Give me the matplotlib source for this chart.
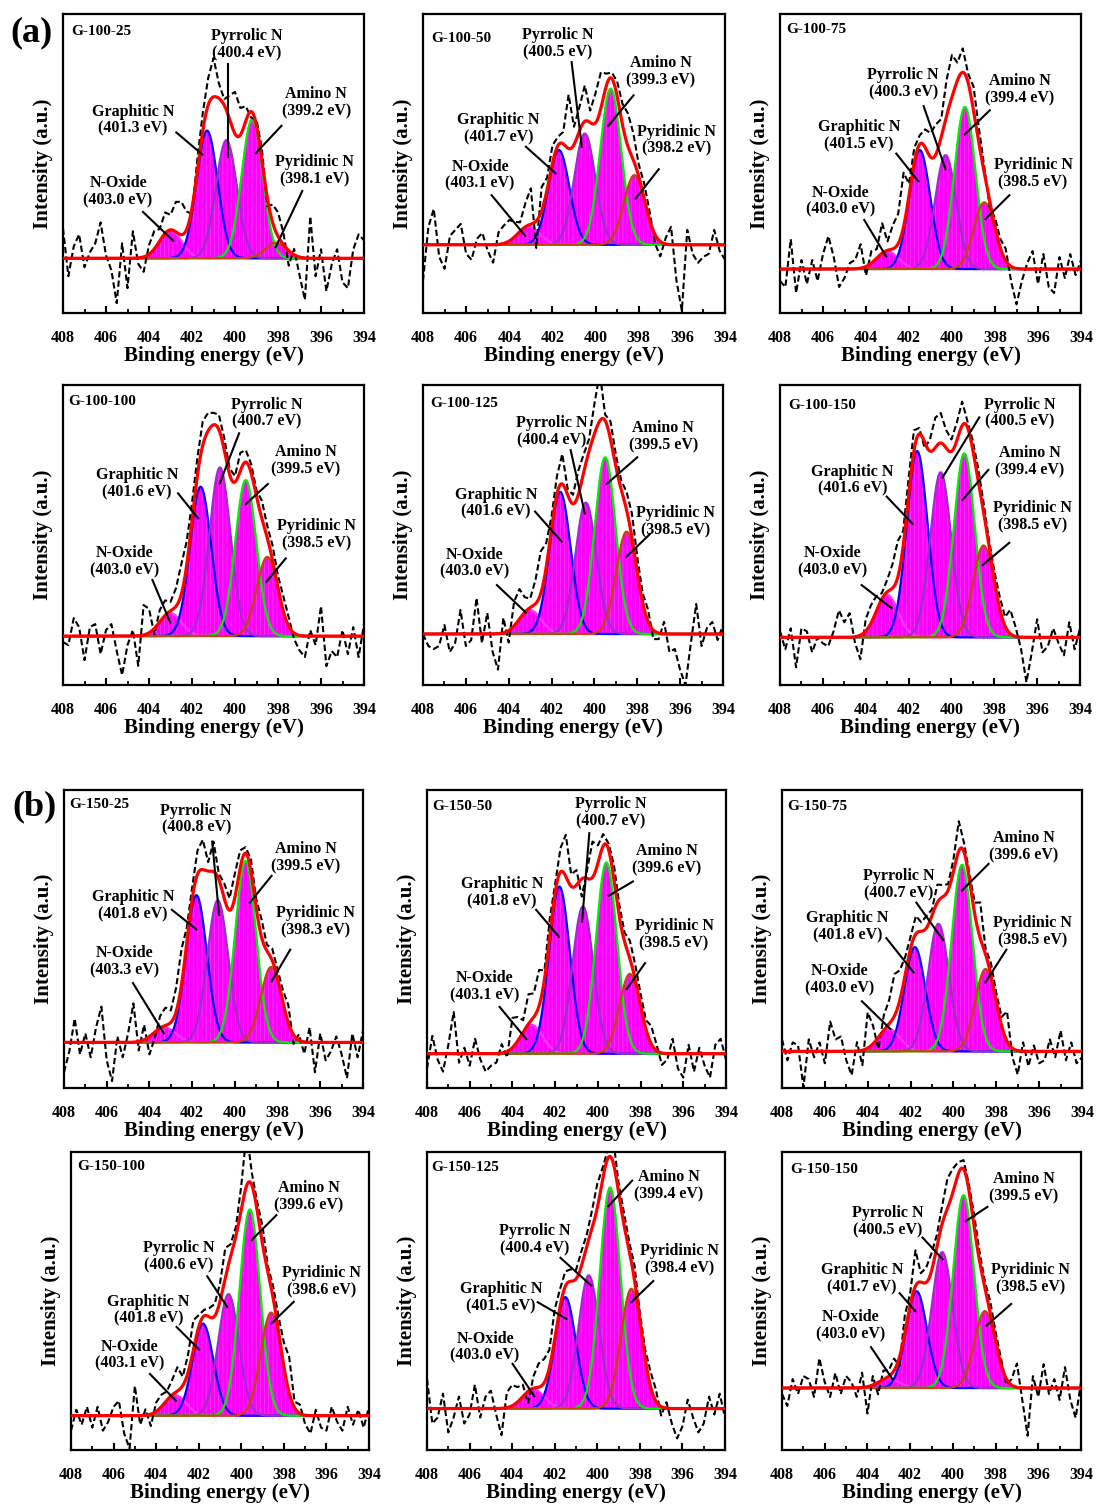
import numpy as np
import matplotlib
matplotlib.use("Agg")
import matplotlib.pyplot as plt
from matplotlib.ticker import MultipleLocator

plt.rcParams["font.family"] = ["Liberation Serif", "DejaVu Serif"]
plt.rcParams["font.weight"] = "bold"
plt.rcParams["axes.labelweight"] = "bold"
plt.rcParams["hatch.linewidth"] = 0.5

# ---- data (intensity in % of panel height) ----
SAMPLES = ["G-100-25", "G-100-50", "G-100-75", "G-100-100", "G-100-125", "G-100-150",
           "G-150-25", "G-150-50", "G-150-75", "G-150-100", "G-150-125", "G-150-150"]
SPECIES = ["N-Oxide", "Graphitic N", "Pyrrolic N", "Amino N", "Pyridinic N"]
FWHM = [1.2, 1.15, 1.15, 1.15, 1.15]  # eV, per species

# peak positions (eV) as labelled, order = SPECIES
CENTERS = [
    [403.0, 401.3, 400.4, 399.2, 398.1],
    [403.1, 401.7, 400.5, 399.3, 398.2],
    [403.0, 401.5, 400.3, 399.4, 398.5],
    [403.0, 401.6, 400.7, 399.5, 398.5],
    [403.0, 401.6, 400.4, 399.5, 398.5],
    [403.0, 401.6, 400.5, 399.4, 398.5],
    [403.3, 401.8, 400.8, 399.5, 398.3],
    [403.1, 401.8, 400.7, 399.6, 398.5],
    [403.0, 401.8, 400.7, 399.6, 398.5],
    [403.1, 401.8, 400.6, 399.6, 398.6],
    [403.0, 401.5, 400.4, 399.4, 398.4],
    [403.0, 401.7, 400.5, 399.5, 398.5],
]
HEIGHTS = [
    [9.4, 42.7, 39.5, 46.5, 5.2],
    [6.1, 31.7, 37.2, 52.2, 23.3],
    [5.9, 39.8, 38.1, 54.2, 22.3],
    [7.6, 49.8, 56.2, 52.0, 26.4],
    [8.0, 47.4, 43.8, 58.9, 34.1],
    [14.1, 62.1, 55.0, 61.3, 30.6],
    [5.1, 49.4, 47.7, 60.9, 25.3],
    [9.7, 56.1, 49.4, 64.2, 26.8],
    [7.5, 35.0, 42.8, 62.6, 27.6],
    [6.9, 30.9, 40.8, 69.2, 34.6],
    [6.5, 37.4, 44.7, 74.2, 40.2],
    [3.0, 32.5, 45.6, 64.7, 25.8],
]
BASELINE = [18.3, 22.8, 14.7, 16.3, 17.0, 15.9, 15.3, 11.5, 12.3, 11.5, 13.9, 20.8]

# measured minus fit, every 0.25 eV from 408 to 394
RESID = [
    [10, -6, 4, 8, -3, 2, 5, 12, 1, -4, -15, 5, -10, 9, -2, -5, 3, 6, 4, 7,
     5, 10, 11, 6, -2, 4, 6, 9, 13, 5, 2, 8, 14, 9, 5, -2, 2, 4, -3, 6,
     8, 4, -5, 2, -6, -14, 14, -6, 3, -11, -2, 3, -8, -10, 3, 8, 6],
    [-12, 6, 12, -4, -8, 3, 5, 7, -3, -5, 2, 4, -2, -6, 4, 6, 7, 5, 3, 8,
     12, -9, 8, 4, 6, 3, 4, 18, 6, 8, 12, 4, 10, 12, 4, 2, 5, 7, 11, 9,
     4, 5, 3, -3, -5, 2, 6, -12, -22, 5, -3, -6, -4, -3, 5, -2, -5],
    [-4, -6, 10, -8, 3, -5, 3, -4, 5, 11, 4, -6, -3, 2, 3, 8, -3, 4, 3, 10,
     3, 8, 10, 18, 4, 5, 3, 6, 8, 10, 6, 12, 14, 6, 8, 3, 8, 5, 2, -2,
     3, 3, 4, -5, -12, -4, 2, 6, -5, 5, -6, -8, 4, -3, 5, -2, 3],
    [-2, -3, 6, 3, -8, 3, 4, -6, 2, 4, -5, -13, -3, 2, -10, 10, 8, -2, 4, 5,
     3, 6, 10, 8, 6, 6, 8, 6, 4, 5, 4, 2, 2, 6, 4, 3, 2, 6, 4, 5,
     4, 5, 3, -2, -5, -7, 2, -3, 10, -10, -5, -7, 2, -6, 3, -7, 4],
    [0, -4, -5, -4, 3, -6, -3, 8, -4, -2, 12, -3, 7, -6, -12, 5, -4, 8, 10, 5,
     3, 8, 14, 8, 4, 6, 10, 2, 3, 8, 6, 4, 10, 16, 2, 6, 4, 3, 6, 8,
     5, 3, 4, -3, -2, 4, -6, -5, -12, -17, -3, 10, -4, 2, 4, -2, 3],
    [2, -4, 3, -10, 3, 2, -5, 0, -2, -3, 2, 9, 5, 8, -2, -8, 4, 6, 5, 2,
     4, 8, 12, 5, 6, 7, 2, -2, 4, 10, 10, 6, 4, 6, 8, 2, 3, 4, 3, 2,
     3, 4, 3, 8, 3, -4, -15, -5, 6, -5, -3, 3, -2, -6, 5, -4, 3],
    [-10, -3, 8, -4, 3, -5, 5, 12, -6, -13, 2, -5, 3, 13, -3, 5, -6, -2, 4, 6,
     4, 8, 12, 5, 4, 8, 10, 3, 10, 2, 5, 4, 8, 6, 2, 4, 3, 6, 2, 4,
     3, 4, 6, -3, 2, -4, 5, -10, 3, -6, -3, 2, -4, -12, 3, -5, 4],
    [-5, 6, -2, -6, 3, 14, -3, 2, -4, 5, -2, -6, -4, -3, 3, -2, 10, 8, 4, 10,
     8, 12, 3, 6, 3, 8, 14, 4, 5, -6, 3, 12, 6, 4, 2, 5, 4, 3, 6, 5,
     4, 3, 6, 2, -4, -2, 5, -5, -8, 3, -6, 2, -4, -8, 3, 5, -2],
    [4, -3, 3, 2, -12, 4, -2, 3, -4, 10, 4, 5, -3, -8, 3, -5, 12, 6, -4, 5,
     8, 14, 10, 6, 4, 6, 3, 4, 2, 6, 4, 2, 4, 10, 3, 2, 4, 12, 2, 4,
     3, 3, 10, -3, -8, 3, -5, 2, -4, -3, 4, -2, 7, -3, 3, -4, -2],
    [-5, 2, -3, 3, -4, 3, -5, -2, 3, 5, -6, -11, 10, -3, 2, -4, 3, 4, 3, 5,
     8, 3, 6, 10, 4, 2, 3, 4, 6, 10, 4, 3, 8, 18, 4, 3, 6, 2, 4, 5,
     8, 12, 2, 3, -3, -6, 2, -4, -5, 3, -2, -5, 3, -3, 2, -4, 3],
    [10, -5, -3, 5, -8, -3, 4, -5, -2, 8, -3, 4, 6, -2, -9, 5, 7, 5, 4, -4,
     4, 8, 8, 6, 10, 6, 5, 4, 3, 5, 4, 6, 8, 4, 3, 8, 3, 4, 3, 5,
     2, 3, 5, 4, -3, 2, -5, -10, -6, 3, -3, -8, -5, 4, -2, 5, -3],
    [-2, -6, 3, -2, 4, 3, -3, 10, 2, -3, 5, -2, 4, 2, -3, 5, -9, 3, -4, 3,
     2, 4, -3, 6, 4, 12, 3, 5, 6, 4, 6, 10, 8, 4, 3, 2, 4, 3, 2, 4,
     3, 2, -2, 2, 8, -4, -16, 4, -3, 8, -2, 3, -4, 7, -4, -10, 2],
]

# ---- layout (pixels of the 1096x1508 figure) ----
W, H = 1096, 1508
AX_BOX = [(63, 14, 364, 313), (423, 14, 725, 313), (780, 14, 1081, 313),
          (63, 385, 364, 685), (423, 385, 723, 685), (780, 385, 1080, 685),
          (64, 790, 363, 1088), (427, 790, 726, 1088), (782, 790, 1082, 1088),
          (71, 1152, 369, 1450), (427, 1152, 725, 1450), (782, 1152, 1081, 1450)]
TITLE_POS = [(0.028, 0.942), (0.026, 0.919), (0.020, 0.948), (0.017, 0.944),
             (0.024, 0.939), (0.028, 0.933), (0.016, 0.950), (0.019, 0.944),
             (0.017, 0.946), (0.022, 0.950), (0.015, 0.948), (0.027, 0.940)]
# per panel, per species: text x, text y, leader x0, y0, x1, y1 (data coords)
LABELS = [
    [(405.44, 40.5, 404.28, 33.8, 402.88, 24.2), (404.74, 64.5, 402.73, 60.4, 401.52, 53.0),
     (399.47, 89.6, 400.33, 83.2, 400.33, 52.1), (396.22, 70.4, 397.84, 62.6, 399.04, 53.4),
     (396.29, 47.7, 396.87, 40.8, 398.11, 22.0)],
    [(405.35, 46.1, 404.82, 39.4, 403.27, 25.9), (404.50, 61.7, 403.23, 55.6, 401.85, 46.7),
     (401.74, 90.0, 401.11, 83.9, 400.64, 55.6), (396.97, 80.8, 398.24, 72.8, 399.41, 62.6),
     (396.23, 57.8, 397.07, 48.1, 398.14, 38.3)],
    [(405.18, 37.4, 404.08, 31.1, 403.06, 18.9), (404.33, 59.4, 402.59, 53.3, 401.57, 44.1),
     (402.27, 76.7, 401.32, 69.2, 400.30, 48.1), (396.86, 74.8, 398.24, 67.8, 399.41, 59.7),
     (396.23, 46.7, 397.33, 39.4, 398.45, 31.4)],
    [(405.13, 41.1, 403.84, 35.0, 403.01, 20.8), (404.56, 67.0, 402.65, 63.9, 401.72, 55.6),
     (398.54, 90.6, 399.81, 83.9, 400.71, 67.2), (396.71, 74.8, 398.47, 67.0, 399.50, 60.3),
     (396.19, 50.0, 397.64, 42.2, 398.54, 34.4)],
    [(405.61, 40.6, 404.55, 33.3, 403.19, 24.1), (404.59, 60.6, 402.77, 57.8, 401.53, 47.8),
     (402.00, 84.4, 401.11, 78.3, 400.45, 57.2), (396.79, 82.8, 398.00, 75.9, 399.43, 67.0),
     (396.20, 54.4, 397.41, 50.3, 398.53, 42.6)],
    [(405.54, 41.1, 404.19, 33.3, 402.79, 25.6), (404.61, 68.3, 403.02, 62.8, 401.81, 53.7),
     (396.80, 90.6, 398.70, 89.2, 400.41, 69.2), (396.36, 74.4, 398.28, 71.7, 399.48, 61.7),
     (396.21, 56.1, 397.30, 47.4, 398.54, 40.0)],
    [(405.15, 42.5, 404.77, 35.2, 403.33, 18.4), (404.77, 61.1, 402.95, 59.8, 401.81, 53.3),
     (401.81, 90.2, 401.06, 82.7, 400.74, 58.1), (396.69, 77.4, 398.28, 71.2, 399.30, 62.2),
     (396.23, 55.9, 397.41, 46.4, 398.28, 35.8)],
    [(405.32, 34.1, 404.60, 27.2, 403.35, 16.4), (404.48, 65.6, 402.89, 59.8, 401.83, 50.8),
     (399.38, 92.4, 400.40, 85.5, 400.74, 55.9), (396.77, 76.5, 398.36, 69.3, 399.49, 64.5),
     (396.43, 51.4, 397.79, 41.9, 398.65, 33.2)],
    [(405.31, 36.3, 404.27, 29.1, 402.94, 19.8), (404.94, 54.2, 403.13, 50.3, 401.86, 38.8),
     (402.56, 68.2, 401.73, 62.2, 400.49, 49.7), (396.72, 81.0, 398.36, 75.2, 399.60, 66.3),
     (396.29, 52.5, 397.53, 46.4, 398.51, 35.4)],
    [(405.23, 31.8, 404.29, 25.5, 403.07, 16.5), (404.37, 46.9, 403.04, 41.3, 401.98, 33.7),
     (402.96, 64.8, 401.60, 58.3, 400.66, 48.0), (396.82, 84.9, 398.35, 78.8, 399.52, 70.4),
     (396.24, 56.4, 397.54, 49.7, 398.58, 42.5)],
    [(405.27, 34.5, 403.98, 28.9, 402.95, 18.0), (404.52, 51.0, 402.80, 49.6, 401.45, 44.0),
     (402.95, 70.6, 401.73, 64.5, 400.29, 55.2), (396.64, 88.6, 398.36, 90.4, 399.48, 81.8),
     (396.15, 63.9, 397.37, 56.7, 398.40, 49.6)],
    [(404.79, 41.8, 403.83, 34.5, 402.83, 23.8), (404.26, 57.5, 402.49, 52.6, 401.76, 46.6),
     (403.04, 76.5, 401.42, 71.3, 400.48, 64.0), (396.67, 88.1, 398.38, 81.6, 399.39, 76.8),
     (396.35, 57.5, 397.27, 49.0, 398.43, 41.7)],
]
LINE_COLORS = ["#FF33FF", "#0000FF", "#9A30C8", "#00EE00", "#C0460A"]


def gauss(x, c, h, fw):
    return h * np.exp(-4 * np.log(2) * (x - c) ** 2 / fw ** 2)


def envelope(x, i):
    y = np.full_like(x, BASELINE[i], dtype=float)
    for c, h, fw in zip(CENTERS[i], HEIGHTS[i], FWHM):
        y += gauss(x, c, h, fw)
    return y


fig = plt.figure(figsize=(W / 100, H / 100), dpi=100)
xf = np.linspace(408, 394, 700)

for i, name in enumerate(SAMPLES):
    x0, y0, x1, y1 = AX_BOX[i]
    ax = fig.add_axes([x0 / W, 1 - y1 / H, (x1 - x0) / W, (y1 - y0) / H])
    base = BASELINE[i]
    comps = [gauss(xf, c, h, fw) for c, h, fw in zip(CENTERS[i], HEIGHTS[i], FWHM)]
    for g in comps:
        ax.fill_between(xf, base, base + g, facecolor="#FF00FF", edgecolor="#F040F0",
                        hatch="||||", linewidth=0, zorder=1)
    for g, col in zip(comps, LINE_COLORS):
        ax.plot(xf, base + g, color=col, lw=1.6, zorder=2)
    xr = np.linspace(408, 394, len(RESID[i]))
    ax.plot(xr, envelope(xr, i) + np.array(RESID[i]), color="black", lw=1.5,
            ls=(0, (3, 1.5)), zorder=3)
    ax.plot(xf, envelope(xf, i), color="#FF0000", lw=2.3, zorder=4)

    for sp, c, (tx, ty, lx0, ly0, lx1, ly1) in zip(SPECIES, CENTERS[i], LABELS[i]):
        ax.text(tx, ty, "%s\n(%.1f eV)" % (sp, c), fontsize=11.5, fontweight="bold",
                ha="center", va="center", multialignment="center", linespacing=1.1,
                zorder=5)
        ax.plot([lx0, lx1], [ly0, ly1], color="black", lw=1.5, zorder=5)

    ax.text(TITLE_POS[i][0], TITLE_POS[i][1], name, transform=ax.transAxes,
            fontsize=11, fontweight="bold", ha="left", va="center")
    ax.set_xlim(408, 394)
    ax.set_ylim(0, 100)
    ax.set_yticks([])
    ax.xaxis.set_major_locator(MultipleLocator(2))
    ax.xaxis.set_minor_locator(MultipleLocator(1))
    ax.tick_params(axis="x", which="major", direction="in", length=5, width=1.5,
                   pad=12, labelsize=11.5)
    ax.tick_params(axis="x", which="minor", direction="in", length=3, width=1.3)
    for lab in ax.get_xticklabels():
        lab.set_fontweight("bold")
    for s in ax.spines.values():
        s.set_linewidth(1.6)
    ax.set_xlabel("Binding energy (eV)", fontsize=15, fontweight="bold", labelpad=0)
    ax.set_ylabel("Intensity (a.u.)", fontsize=15, fontweight="bold", labelpad=7)

fig.text(32 / W, 1 - 33 / H, "(a)", fontsize=26, fontweight="bold", ha="center", va="center")
fig.text(34 / W, 1 - 807 / H, "(b)", fontsize=26, fontweight="bold", ha="center", va="center")
fig.savefig("out.png", dpi=100)
